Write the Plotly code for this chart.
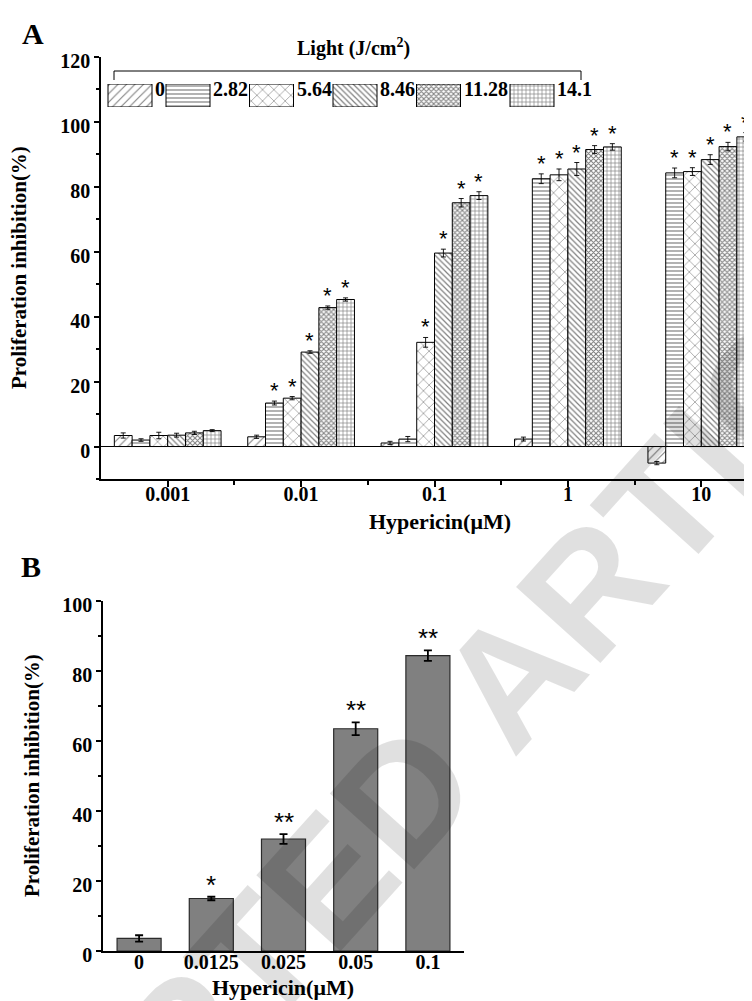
import plotly.graph_objects as go

W, H = 752, 1001

# ---------------- Panel A data ----------------
conc_a = ['0.001', '0.01', '0.1', '1', '10']
light_doses = ['0', '2.82', '5.64', '8.46', '11.28', '14.1']

inhib_l0 = [3.4, 3.0, 1.1, 2.3, -5.1]
inhib_l282 = [2.0, 13.4, 2.3, 82.5, 84.3]
inhib_l564 = [3.4, 14.9, 32.1, 83.7, 84.7]
inhib_l846 = [3.5, 29.1, 59.6, 85.5, 88.4]
inhib_l1128 = [4.2, 42.8, 75.1, 91.5, 92.4]
inhib_l141 = [4.9, 45.3, 77.3, 92.3, 95.4]

sd_l0 = [0.8, 0.5, 0.5, 0.6, 0.5]
sd_l282 = [0.4, 0.6, 0.8, 1.5, 1.5]
sd_l564 = [1.0, 0.5, 1.5, 1.8, 1.2]
sd_l846 = [0.6, 0.4, 1.2, 2.0, 1.5]
sd_l1128 = [0.5, 0.5, 1.3, 1.2, 1.3]
sd_l141 = [0.3, 0.5, 1.2, 1.0, 1.3]

sig_l0 = ['', '', '', '', '']
sig_l282 = ['', '*', '', '*', '*']
sig_l564 = ['', '*', '*', '*', '*']
sig_l846 = ['', '*', '*', '*', '*']
sig_l1128 = ['', '*', '*', '*', '*']
sig_l141 = ['', '*', '*', '*', '*']

# ---------------- Panel B data ----------------
conc_b = ['0', '0.0125', '0.025', '0.05', '0.1']
inhib_b = [3.6, 15.0, 32.0, 63.5, 84.4]
sd_b = [0.9, 0.5, 1.4, 1.8, 1.5]
sig_b = ['', '*', '**', '**', '**']

series_vals = [inhib_l0, inhib_l282, inhib_l564, inhib_l846, inhib_l1128, inhib_l141]
series_sd = [sd_l0, sd_l282, sd_l564, sd_l846, sd_l1128, sd_l141]
series_sig = [sig_l0, sig_l282, sig_l564, sig_l846, sig_l1128, sig_l141]

# hatch styles per light dose
patterns = [
    dict(shape='/', size=6, solidity=0.18),
    dict(shape='-', size=4, solidity=0.3),
    dict(shape='x', size=8, solidity=0.15),
    dict(shape='\\', size=4, solidity=0.3),
    dict(shape='x', size=3.5, solidity=0.5),
    dict(shape='+', size=4, solidity=0.3),
]

SERIF = 'Liberation Serif'
tickfont = dict(family=SERIF, size=20, color='black', weight='bold')


def px(x):
    return x / W


def py(y):
    return 1 - y / H


fig = go.Figure()

BARGAP = 0.2
n_series = len(light_doses)
idx_a = list(range(len(conc_a)))

for k in range(n_series):
    fig.add_trace(go.Bar(
        x=idx_a, y=series_vals[k], name=light_doses[k],
        error_y=dict(type='data', array=series_sd[k], color='black', thickness=0.9, width=2.5),
        marker=dict(color='white', line=dict(color='black', width=1),
                    pattern=dict(fgcolor='black', bgcolor='white', fillmode='overlay', **patterns[k])),
        xaxis='x', yaxis='y', showlegend=False,
    ))

annotations = []
slot = (1 - BARGAP) / n_series
for k in range(n_series):
    for i in idx_a:
        if series_sig[k][i]:
            annotations.append(dict(
                x=i - (1 - BARGAP) / 2 + (k + 0.5) * slot,
                y=series_vals[k][i] + series_sd[k][i],
                xref='x', yref='y', text=series_sig[k][i], showarrow=False,
                yanchor='bottom', yshift=-4,
                font=dict(family='Liberation Sans', size=22, color='black')))

# legend swatches on a hidden pixel-scaled axis
SW_W = 44
digit_w, dot_w, pad = 10, 5.5, 4
lefts = []
cur = 100
for lab in light_doses:
    lefts.append(cur)
    tw = sum(dot_w if ch == '.' else digit_w for ch in lab)
    cur += SW_W + tw + pad
fig.add_trace(go.Bar(
    x=[l + SW_W / 2 for l in lefts], y=[1] * n_series, base=0, width=[SW_W] * n_series,
    marker=dict(color='white', line=dict(color='black', width=1),
                pattern=dict(fgcolor='black', bgcolor='white', fillmode='overlay',
                             shape=[p['shape'] for p in patterns],
                             size=[p['size'] for p in patterns],
                             solidity=[p['solidity'] for p in patterns])),
    xaxis='x3', yaxis='y3', showlegend=False, hoverinfo='skip'))
for l, lab in zip(lefts, light_doses):
    annotations.append(dict(x=(l + SW_W + 1) / W, y=py(81), xref='paper', yref='paper',
                            text=lab, showarrow=False, xanchor='left', yanchor='middle',
                            font=dict(family=SERIF, size=20, color='black', weight='bold')))

# Panel B
idx_b = list(range(len(conc_b)))
fig.add_trace(go.Bar(
    x=idx_b, y=inhib_b, width=0.61,
    error_y=dict(type='data', array=sd_b, color='black', thickness=1.8, width=4),
    marker=dict(color='#808080', line=dict(color='#2b2b2b', width=1.2)),
    xaxis='x2', yaxis='y2', showlegend=False))
for i, v, e, s in zip(idx_b, inhib_b, sd_b, sig_b):
    if s:
        annotations.append(dict(x=i, y=v + e, xref='x2', yref='y2', text=s, showarrow=False,
                                yanchor='bottom', yshift=-5,
                                font=dict(family='Liberation Sans', size=26, color='black')))

# titles / labels
annotations += [
    dict(x=px(25), y=py(25), text='A', font=dict(family=SERIF, size=30, color='black', weight='bold')),
    dict(x=px(23), y=py(558), text='B', font=dict(family=SERIF, size=30, color='black', weight='bold')),
    dict(x=px(11), y=py(260), text='Proliferation inhibition(%)', textangle=-90,
         font=dict(family=SERIF, size=21, color='black', weight='bold')),
    dict(x=px(24), y=py(768), text='Proliferation inhibition(%)', textangle=-90,
         font=dict(family=SERIF, size=21, color='black', weight='bold')),
    dict(x=px(432), y=py(513), text='Hypericin(μM)',
         font=dict(family=SERIF, size=22, color='black', weight='bold')),
    dict(x=px(275), y=py(979), text='Hypericin(μM)',
         font=dict(family=SERIF, size=22, color='black', weight='bold')),
    dict(x=px(345), y=py(39), text='Light (J/cm<sup>2</sup>)',
         font=dict(family=SERIF, size=20, color='black', weight='bold')),
]
for a in annotations[-7:]:
    a.update(xref='paper', yref='paper', showarrow=False, xanchor='center', yanchor='middle')

# watermark
annotations.append(dict(x=px(385), y=py(800), xref='paper', yref='paper', text='ACCEPTED ARTICLE',
                        showarrow=False, textangle=-48, xanchor='center', yanchor='middle',
                        font=dict(family='Liberation Sans', size=165, color='rgba(0,0,0,0.12)',
                                  weight='bold')))

# bracket over legend
br = dict(type='line', xref='paper', yref='paper', line=dict(color='black', width=1))
shapes = [
    dict(br, x0=px(106), x1=px(573), y0=py(63), y1=py(63)),
    dict(br, x0=px(106), x1=px(106), y0=py(63), y1=py(72)),
    dict(br, x0=px(573), x1=px(573), y0=py(63), y1=py(72)),
]

axis_common = dict(showline=True, linecolor='black', linewidth=1.5, showgrid=False,
                   tickfont=tickfont, tickcolor='black', tickwidth=1.5, automargin=False,
                   fixedrange=True)

fig.update_layout(
    width=W, height=H, autosize=False,
    margin=dict(l=0, r=0, t=0, b=0),
    paper_bgcolor='white', plot_bgcolor='rgba(0,0,0,0)',
    barmode='group', bargap=BARGAP, bargroupgap=0,
    xaxis=dict(axis_common, domain=[px(93), 1], range=[-0.5, 4.44], anchor='y',
               tickmode='array', tickvals=idx_a, ticktext=conc_a, ticks='outside', ticklen=6,
               ticklabelstandoff=-10, zeroline=False,
               minor=dict(tickmode='array', tickvals=[0.5, 1.5, 2.5, 3.5], ticks='outside',
                          ticklen=4, tickwidth=1.5, tickcolor='black')),
    yaxis=dict(axis_common, domain=[py(471), py(49)], range=[-10, 120], anchor='x',
               tickmode='linear', tick0=0, dtick=20, ticks='outside', ticklen=5,
               ticklabelshift=4,
               zeroline=True, zerolinecolor='black', zerolinewidth=1.2,
               minor=dict(tick0=0, dtick=10, ticks='outside', ticklen=3, tickwidth=1.5,
                          tickcolor='black')),
    xaxis2=dict(axis_common, domain=[px(95), px(456)], range=[-0.5, 4.5],
                tickmode='array', tickvals=idx_b, ticktext=conc_b, ticklabelstandoff=-8,
                anchor='y2', ticks='', zeroline=False),
    yaxis2=dict(axis_common, domain=[py(943), py(593)], range=[0, 100], anchor='x2',
                tickmode='linear', tick0=0, dtick=20, ticks='outside', ticklen=5, zeroline=False,
                ticklabelshift=4,
                minor=dict(tick0=0, dtick=10, ticks='outside', ticklen=3, tickwidth=1.5,
                           tickcolor='black')),
    xaxis3=dict(domain=[0, 1], range=[0, W], anchor='y3', visible=False, fixedrange=True),
    yaxis3=dict(domain=[py(99), py(76)], range=[0, 1], anchor='x3', visible=False, fixedrange=True),
    annotations=annotations,
    shapes=shapes,
)

fig.write_html('out.html')
